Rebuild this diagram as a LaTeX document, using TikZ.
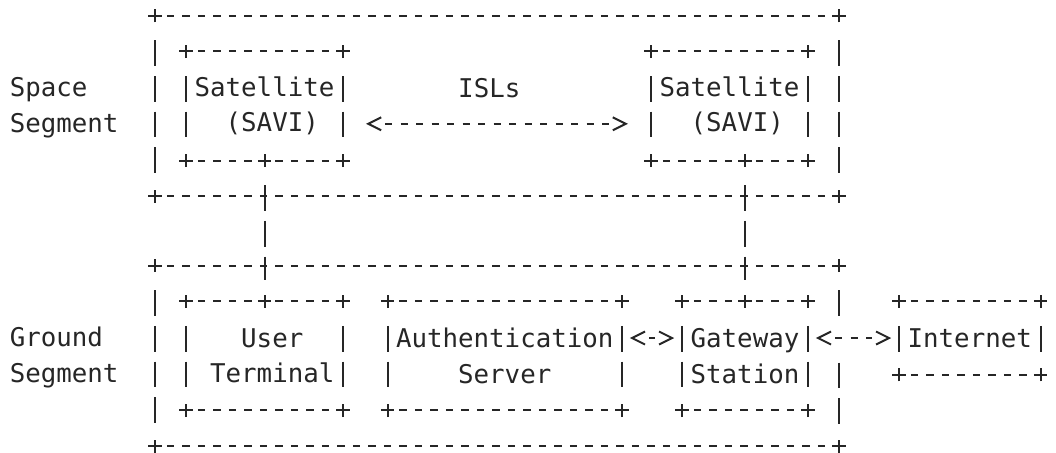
\documentclass[tikz,border=0pt]{standalone}
\usepackage{fontspec}
\setmonofont{DejaVu Sans Mono}
\usetikzlibrary{calc}

% one column = 7.75pt, one row = 17.85pt
\tikzset{
  box/.style 2 args={inner sep=0pt, align=center,
    minimum width=#1*7.75pt, minimum height=#2*17.85pt},
  hline/.style={dash pattern=on 3.6pt off 4.15pt, dash phase=1.8pt},
  vline/.style={dash pattern=on 12.85pt off 5pt, shorten <=12.3pt, shorten >=10.5pt},
  link/.style={dash pattern=on 3.6pt off 4.15pt, shorten <=13.5pt, shorten >=13.5pt},
  plus/.pic={\draw[solid] (-3.3pt,0) -- (3.3pt,0) (0,-3.3pt) -- (0,3.3pt);},
  lt/.pic={\draw[solid] (6.5pt,3.25pt) -- (0,0) -- (6.5pt,-3.25pt);},
  gt/.pic={\draw[solid] (-6.5pt,3.25pt) -- (0,0) -- (-6.5pt,-3.25pt);}
}

\begin{document}
\begin{tikzpicture}[x=7.75pt, y=-17.85pt, line width=1pt, black!85,
  font=\ttfamily\fontsize{12.9pt}{17.85pt}\selectfont]

\useasboundingbox (-1.0645,0.532) rectangle (67.065,13.221);

% segments
\node(space)[box={44}{5}] at (31,3.5) {};
\node(ground)[box={44}{5}] at (31,10.5) {};
\node(spacelbl)[anchor=west, align=left, inner sep=0pt] at (-0.5,3.55) {Space\\Segment};
\node(groundlbl)[anchor=west, align=left, inner sep=0pt] at (-0.5,10.55) {Ground\\Segment};

% satellites
\node(sat1)[box={10}{3}] at (16,3.5) {Satellite\\\phantom{x}(SAVI)};
\node(sat2)[box={10}{3}] at (46,3.5) {Satellite\\\phantom{x}(SAVI)};

% ground side
\node(ut)[box={10}{3}] at (16,10.5) {\phantom{x}User\\\phantom{x}Terminal};
\node(auth)[box={15}{3}] at (31.5,10.5) {Authentication\\Server};
\node(gw)[box={8}{3}] at (47,10.5) {Gateway\\Station};
\node(inet)[box={9}{2}] at (61.5,10) {Internet};

\foreach \n in {space,ground,sat1,sat2,ut,auth,gw,inet}{
  \draw[hline] (\n.north west) -- (\n.north east);
  \draw[hline] (\n.south west) -- (\n.south east);
  \draw[vline] (\n.north west) -- (\n.south west);
  \foreach \c in {north west,north east,south west,south east}
    \pic at (\n.\c) {plus};
}
\foreach \n in {space,sat1,sat2,ut,auth,gw,inet}
  \draw[vline] (\n.north east) -- (\n.south east);

% two-way links
\coordinate (isl1) at ($(sat1.east)+(0,.5)$);
\coordinate (isl2) at ($(sat2.west)+(0,.5)$);
\coordinate (ag1) at ($(auth.east)+(0,-.5)$);
\coordinate (ag2) at ($(gw.west)+(0,-.5)$);
\coordinate (gi1) at ($(gw.east)+(0,-.5)$);

% ground frame, right side is cut by the internet link
\draw[vline] (ground.north east) -- (gi1 -| ground.east);
\draw[vline] (gi1 -| ground.east) -- (ground.south east);

% links between the segments
\draw[vline] (sat1.south) -- (ut.north);
\draw[vline] (sat2.south -| gw.north) -- (gw.north);
\foreach \p in {(sat1.south),(ut.north),(sat2.south -| gw.north),(gw.north)}
  \pic at \p {plus};

\draw[link, shorten <=21.1pt, shorten >=21.1pt] (isl1) -- node[pos=.475, yshift=17.85pt](isl){ISLs} (isl2);
\pic[xshift=12.6pt] at (isl1) {lt};
\pic[xshift=-12.6pt] at (isl2) {gt};

\draw[link] (ag1) -- (ag2);
\pic[xshift=5pt] at (ag1) {lt};
\pic[xshift=-5pt] at (ag2) {gt};

\draw[link] (gi1) -- (inet.west);
\pic[xshift=5pt] at (gi1) {lt};
\pic[xshift=-5pt] at (inet.west) {gt};

\end{tikzpicture}
\end{document}
